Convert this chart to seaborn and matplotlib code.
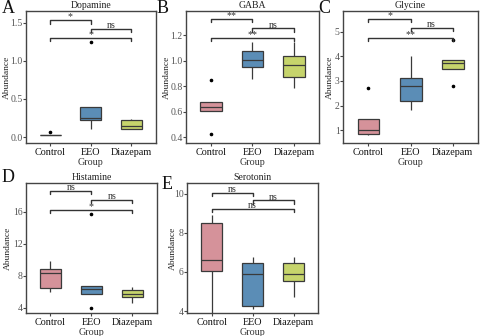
import pandas as pd
import seaborn as sns
import matplotlib.pyplot as plt

groups = ['Control', 'EEO', 'Diazepam']
colors = ['#D5929A', '#5B8DB6', '#C6D46C']

# valores por metabolito y grupo
dopamine = {
    'Control': [0.025, 0.028, 0.03, 0.032, 0.07],
    'EEO': [0.1, 0.18, 0.22, 0.24, 0.25, 0.3, 0.39, 0.39, 1.25],
    'Diazepam': [0.1, 0.1, 0.14, 0.22, 0.24],
}
gaba = {
    'Control': [0.43, 0.61, 0.64, 0.675, 0.85],
    'EEO': [0.855, 0.955, 1.005, 1.075, 1.15],
    'Diazepam': [0.79, 0.875, 0.965, 1.04, 1.15],
}
glycine = {
    'Control': [0.8, 0.82, 0.83, 0.9, 1.0, 1.2, 1.45, 1.45, 2.7],
    'EEO': [1.8, 2.2, 2.8, 3.1, 4.0],
    'Diazepam': [2.8, 3.5, 3.72, 3.87, 4.65],
}
histamine = {
    'Control': [6.0, 6.5, 8.4, 8.8, 9.8],
    'EEO': [4.0, 5.7, 6.4, 6.7, 15.8],
    'Diazepam': [4.6, 5.3, 5.7, 6.2, 6.6],
}
serotonin = {
    'Control': [3.85, 6.05, 6.6, 8.5, 8.9],
    'EEO': [4.1, 4.25, 5.9, 6.45, 6.75],
    'Diazepam': [4.7, 5.55, 5.9, 6.45, 6.75],
}

# comparaciones: (grupo1, grupo2, altura, etiqueta)
brackets_a = [(0, 1, 1.53, '*'), (1, 2, 1.42, 'ns'), (0, 2, 1.30, '*')]
brackets_b = [(0, 1, 1.33, '**'), (1, 2, 1.255, 'ns'), (0, 2, 1.18, '**')]
brackets_c = [(0, 1, 5.52, '*'), (1, 2, 5.15, 'ns'), (0, 2, 4.75, '**')]
brackets_d = [(0, 1, 18.6, 'ns'), (1, 2, 17.5, 'ns'), (0, 2, 16.3, '*')]
brackets_e = [(0, 1, 10.05, 'ns'), (1, 2, 9.65, 'ns'), (0, 2, 9.22, 'ns')]

panels = [
    ('A', 'Dopamine', dopamine, brackets_a, (-0.08, 1.65), [0.0, 0.5, 1.0, 1.5], ['0.0', '0.5', '1.0', '1.5']),
    ('B', 'GABA', gaba, brackets_b, (0.355, 1.39), [0.4, 0.6, 0.8, 1.0, 1.2], ['0.4', '0.6', '0.8', '1.0', '1.2']),
    ('C', 'Glycine', glycine, brackets_c, (0.47, 5.84), [1, 2, 3, 4, 5], ['1', '2', '3', '4', '5']),
    ('D', 'Histamine', histamine, brackets_d, (3.34, 19.6), [4, 8, 12, 16], ['4', '8', '12', '16']),
    ('E', 'Serotonin', serotonin, brackets_e, (3.9, 10.53), [4, 6, 8, 10], ['4', '6', '8', '10']),
]

positions = [
    [0.054, 0.574, 0.27, 0.393],
    [0.3875, 0.574, 0.277, 0.393],
    [0.715, 0.574, 0.281, 0.393],
    [0.054, 0.068, 0.273, 0.387],
    [0.39, 0.068, 0.273, 0.387],
]
letter_pos = [(0.004, 0.95), (0.327, 0.95), (0.662, 0.95), (0.004, 0.445), (0.337, 0.425)]
# borde derecho de la etiqueta del eje y (coordenadas de ejes)
ylabel_x = [-0.113, -0.112, -0.067, -0.107, -0.076]

sns.set_theme(style='white')
plt.rcParams['font.family'] = ['Liberation Serif', 'DejaVu Serif']

fig = plt.figure(figsize=(4.8, 3.36), dpi=100)

for (letter, title, data, brackets, ylim, yticks, ylabels), pos, lp, lx in zip(panels, positions, letter_pos, ylabel_x):
    rows = []
    for g in groups:
        for v in data[g]:
            rows.append({'Group': g, 'Abundance': v})
    df = pd.DataFrame(rows)

    ax = fig.add_axes(pos)
    sns.boxplot(data=df, x='Group', y='Abundance', hue='Group', order=groups, hue_order=groups,
                palette=colors, saturation=1, width=0.52, linecolor='#3a3a3a', linewidth=0.9,
                showcaps=False,
                flierprops=dict(marker='o', markersize=1.6, markerfacecolor='black',
                                markeredgecolor='black'),
                legend=False, ax=ax)
    ax.set_xlim(-0.6, 2.6)
    ax.set_ylim(*ylim)
    ax.set_yticks(yticks)
    ax.set_yticklabels(ylabels)
    ax.set_title(title, fontsize=7, pad=2, color='#222')
    ax.set_xlabel('Group', fontsize=7.2, color='#333', labelpad=1)
    ax.set_ylabel('Abundance', fontsize=6.8, color='#222')
    ax.yaxis.set_label_coords(lx, 0.5)
    ax.tick_params(axis='x', labelsize=7.3, colors='#444', length=2.5, width=0.8, pad=1, labelcolor='#111')
    ax.tick_params(axis='y', labelsize=7, colors='#444', length=2, width=0.8, pad=0.5, labelcolor='#555')
    ax.tick_params(bottom=True, left=True)
    for s in ax.spines.values():
        s.set_color('#444')
        s.set_linewidth(1.0)

    span = ylim[1] - ylim[0]
    for x1, x2, y, lab in brackets:
        ax.plot([x1, x1, x2, x2], [y - span * 0.025, y, y, y - span * 0.025],
                color='#333', linewidth=1.0)
        ax.text((x1 + x2) / 2, y - span * 0.01, lab, ha='center', va='bottom',
                fontsize=7.2, color='#333')

    fig.text(lp[0], lp[1], letter, fontsize=13, color='#111', ha='left', va='bottom')

fig.savefig('out.png', dpi=100)
